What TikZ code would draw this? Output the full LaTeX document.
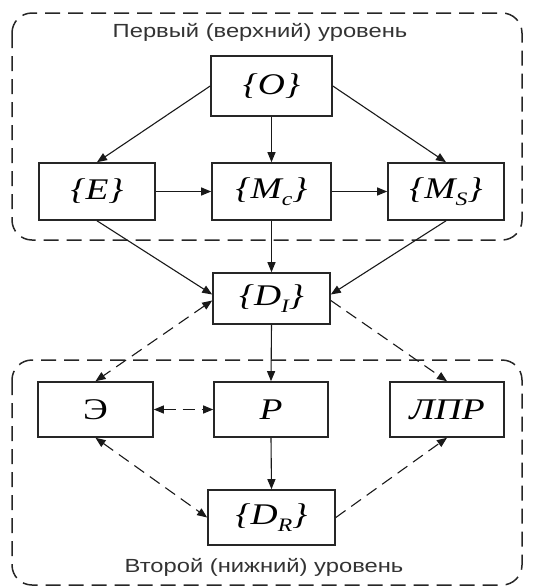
\documentclass[tikz,border=0pt]{standalone}
\usepackage{fontspec}
\setmainfont{Liberation Serif}
\newfontfamily\labelsans{Liberation Sans}
\usetikzlibrary{arrows.meta}
\tikzset{
  block/.style={draw=black!85, line width=1.6pt, fill=white, inner sep=0pt,
    font=\fontsize{30}{31}\selectfont},
  region/.style={draw=black!85, line width=1.5pt, dash pattern=on 15pt off 8pt,
    rounded corners=20pt},
  link/.style={draw=black!90, line width=1.1pt, -{Triangle[length=10pt,width=8pt]}},
  dlink/.style={link, dash pattern=on 12pt off 7pt},
  bilink/.style={dlink, {Triangle[length=10pt,width=8pt]}-{Triangle[length=10pt,width=8pt]}},
  caption/.style={font=\labelsans\fontsize{19}{20}\selectfont, text=black!80, inner sep=0pt}
}
\newcommand{\lbl}[1]{\scalebox{1.25}[1]{#1}}
\newcommand{\sbs}[1]{\raisebox{-0.22em}{\fontsize{19}{20}\selectfont #1}}
\begin{document}
\begin{tikzpicture}[x=1pt,y=-1pt]
  \useasboundingbox (0,0) rectangle (534,587);

  % level frames
  \draw[region] (12,13) rectangle (522,240);
  \draw[region] (12,360) rectangle (522,585);
  \node[caption] (top) at (260,32) {\lbl{Первый (верхний) уровень}};
  \node[caption] (bot) at (264,567) {\lbl{Второй (нижний) уровень}};

  % first level
  \node[block, minimum width=121pt, minimum height=60pt] (O) at (271.5,86) {\lbl{\itshape\{O\}}};
  \node[block, minimum width=116pt, minimum height=57pt] (E) at (97,191.5) {\lbl{\itshape\{E\}}};
  \node[block, minimum width=119pt, minimum height=57pt] (Mc) at (271.5,191.5) {\lbl{\itshape\{M\sbs{c}\}}};
  \node[block, minimum width=116pt, minimum height=57pt] (Ms) at (446,191.5) {\lbl{\itshape\{M\sbs{S}\}}};

  % information node
  \node[block, minimum width=117pt, minimum height=51pt] (DI) at (271.5,298.5) {\lbl{\itshape\{D\sbs{I}\}}};

  % second level
  \node[block, minimum width=115pt, minimum height=55pt] (Ex) at (95.5,409.5) {\lbl{Э}};
  \node[block, minimum width=114pt, minimum height=55pt] (P) at (271,409.5) {\lbl{\itshape P}};
  \node[block, minimum width=114pt, minimum height=55pt] (L) at (447,409.5) {\lbl{\itshape ЛПР}};
  \node[block, minimum width=127pt, minimum height=55pt] (DR) at (271.5,517.5) {\lbl{\itshape\{D\sbs{R}\}}};

  % solid connectors
  \draw[link] (O.west) -- (E.north);
  \draw[link] (O.south) -- (Mc.north);
  \draw[link] (O.east) -- (Ms.north);
  \draw[link] (E.east) -- (Mc.west);
  \draw[link] (Mc.east) -- (Ms.west);
  \draw[link] (E.south) -- ([yshift=4pt]DI.west);
  \draw[link] (Mc.south) -- (DI.north);
  \draw[link] (Ms.south) -- ([yshift=4pt]DI.east);
  \draw[link] (DI.south) -- (P.north);
  \draw[link] (P.south) -- (DR.north);

  % dashed connectors
  \draw[bilink] ([yshift=-2pt]DI.west) -- (Ex.north);
  \draw[dlink] ([yshift=-2pt]DI.east) -- (L.north);
  \draw[bilink] (Ex.east) -- (P.west);
  \draw[bilink] (Ex.south) -- (DR.west);
  \draw[dlink] (DR.east) -- (L.south);
\end{tikzpicture}
\end{document}
